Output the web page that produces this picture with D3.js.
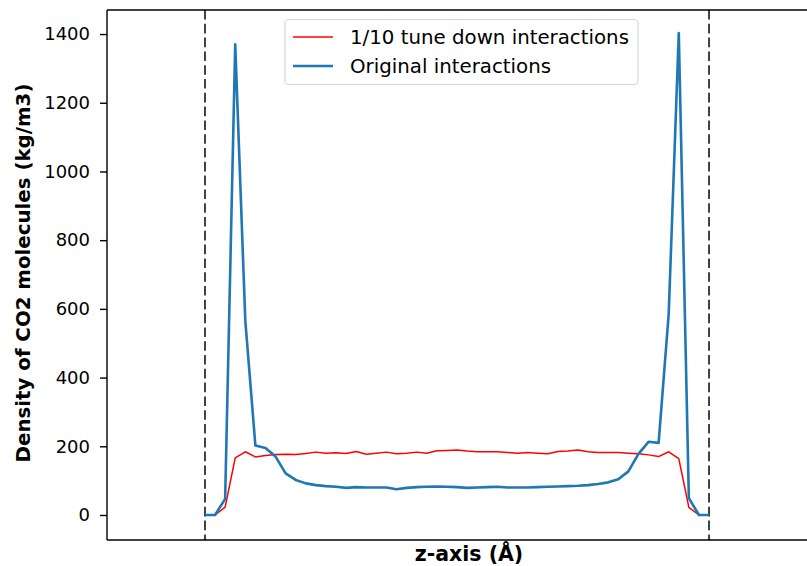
<!DOCTYPE html>
<html>
<head>
<meta charset="utf-8">
<script src="https://cdn.jsdelivr.net/npm/d3@7"></script>
<style>
  html, body { margin: 0; padding: 0; background: #fff; }
  svg { display: block; }
  text { font-family: "DejaVu Sans", sans-serif; }
</style>
</head>
<body>
<svg id="chart" width="807" height="566"></svg>
<script>
// bin index along z (51 bins between the two walls)
const zBins = d3.range(0, 51);
const wallPositions = [0, 50];

const tunedDown = [0, 0, 23, 166, 184, 169, 173, 176, 177, 176,
  179, 183, 180, 181, 179, 185, 177, 180, 183, 178,
  180, 183, 180, 187, 188, 189, 186, 184, 184, 184,
  182, 180, 182, 180, 178, 185, 186, 189, 184, 182,
  182, 182, 180, 178, 175, 170, 184, 164, 22, 0, 0];

const original = [0, 0, 47, 1370, 565, 202, 195, 170, 121, 102,
  92, 87, 84, 82, 79, 81, 80, 80, 80, 75,
  79, 81, 82, 83, 82, 81, 79, 80, 81, 82,
  80, 80, 80, 81, 82, 83, 84, 85, 87, 90,
  95, 104, 127, 178, 213, 210, 585, 1403, 49, 0, 0];

const yTicks = [0, 200, 400, 600, 800, 1000, 1200, 1400];
const seriesNames = ["1/10 tune down interactions", "Original interactions"];
const xLabel = "z-axis (Å)";
const yLabel = "Density of CO2 molecules (kg/m3)";

const svg = d3.select("#chart");
const mLeft = 107, mRight = 831, mTop = 10, mBottom = 540;

const x = d3.scaleLinear().domain([-9.72, 62.1]).range([mLeft, mRight]);
const y = d3.scaleLinear().domain([-72.8, 1470]).range([mBottom, mTop]);

svg.append("clipPath").attr("id", "clip")
  .append("rect").attr("x", mLeft).attr("y", mTop)
  .attr("width", mRight - mLeft).attr("height", mBottom - mTop);

const plot = svg.append("g").attr("clip-path", "url(#clip)");

// dashed walls
plot.selectAll("line.wall").data(wallPositions).enter().append("line")
  .attr("class", "wall")
  .attr("x1", d => x(d)).attr("x2", d => x(d))
  .attr("y1", mTop).attr("y2", mBottom)
  .attr("stroke", "#222").attr("stroke-width", 1.7)
  .attr("stroke-dasharray", "9.6,4.2");

const line = d3.line().x((d, i) => x(zBins[i])).y(d => y(d));

plot.append("path").datum(tunedDown)
  .attr("d", line).attr("fill", "none")
  .attr("stroke", "#ff0000").attr("stroke-width", 1.5)
  .attr("stroke-linejoin", "round");

plot.append("path").datum(original)
  .attr("d", line).attr("fill", "none")
  .attr("stroke", "#1f77b4").attr("stroke-width", 2.6)
  .attr("stroke-linejoin", "round");

// y axis
const yAxis = d3.axisLeft(y).tickValues(yTicks).tickFormat(d3.format("d"))
  .tickSize(7).tickPadding(10);
const gy = svg.append("g").attr("transform", `translate(${mLeft},0)`).call(yAxis);
gy.select(".domain").remove();
gy.selectAll(".tick line").attr("stroke", "#000").attr("stroke-width", 1.4);
gy.selectAll(".tick text").attr("font-size", "18px").attr("fill", "#000")
  .attr("font-family", "DejaVu Sans, sans-serif");

// spines
const spine = svg.append("g").attr("stroke", "#000").attr("stroke-width", 1.4).attr("fill", "none");
spine.append("line").attr("x1", mLeft).attr("x2", mLeft).attr("y1", mTop).attr("y2", mBottom);
spine.append("line").attr("x1", mLeft).attr("x2", mRight).attr("y1", mBottom).attr("y2", mBottom);
spine.append("line").attr("x1", mLeft).attr("x2", mRight).attr("y1", mTop).attr("y2", mTop);
spine.append("line").attr("x1", mRight).attr("x2", mRight).attr("y1", mTop).attr("y2", mBottom);

// labels
svg.append("text").attr("x", (mLeft + mRight) / 2).attr("y", 561)
  .attr("text-anchor", "middle").attr("font-weight", "bold")
  .attr("font-size", "20.5px").text(xLabel);

svg.append("text").attr("transform", `translate(30,273) rotate(-90)`)
  .attr("text-anchor", "middle").attr("font-weight", "bold")
  .attr("font-size", "19.8px").text(yLabel);

// legend
const lg = svg.append("g");
lg.append("rect").attr("x", 285).attr("y", 19.5).attr("width", 353).attr("height", 65)
  .attr("rx", 4).attr("fill", "#fff").attr("fill-opacity", 0.8)
  .attr("stroke", "#d6d6d6").attr("stroke-width", 1.2);
const legendColors = ["#ff0000", "#1f77b4"];
const legendWidths = [1.5, 2.6];
seriesNames.forEach((name, i) => {
  const cy = 37 + i * 29;
  lg.append("line").attr("x1", 293).attr("x2", 333).attr("y1", cy).attr("y2", cy)
    .attr("stroke", legendColors[i]).attr("stroke-width", legendWidths[i]);
  lg.append("text").attr("x", 350).attr("y", cy).attr("dy", "0.36em")
    .attr("font-size", "19.8px").attr("fill", "#000").text(name);
});
</script>
</body>
</html>
